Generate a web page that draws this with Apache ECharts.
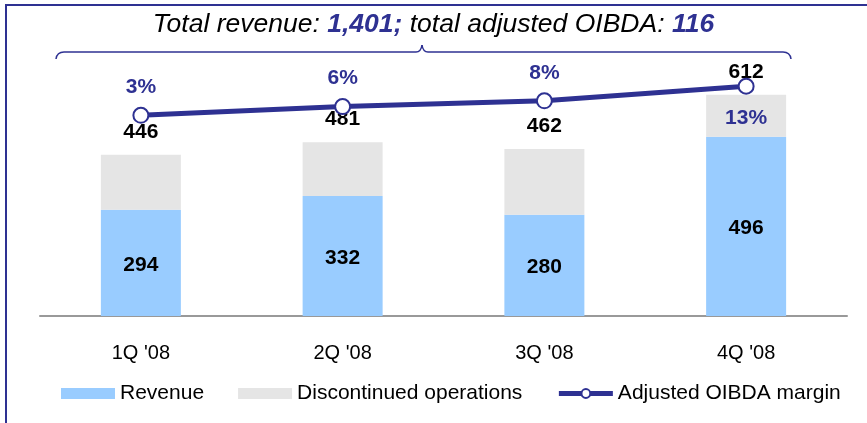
<!DOCTYPE html>
<html>
<head>
<meta charset="utf-8">
<script src="https://cdn.jsdelivr.net/npm/echarts@6/dist/echarts.min.js"></script>
<style>
  html, body { margin: 0; padding: 0; background: #fff; }
  #chart { width: 867px; height: 423px; }
</style>
</head>
<body>
<div id="chart"></div>
<script>
  // quarters
  var categories = ["1Q '08", "2Q '08", "3Q '08", "4Q '08"];
  // revenue from continuing operations
  var revenue = [294, 332, 280, 496];
  // discontinued operations (total - revenue)
  var discontinued = [152, 149, 182, 116];
  // total revenue shown above each bar
  var totals = [446, 481, 462, 612];
  // adjusted OIBDA margin, %
  var margin = [3, 6, 8, 13];
  var totalRevenue = '1,401';
  var totalOibda = '116';

  var blue = '#2e3192';
  var font = 'Liberation Sans, Arial, sans-serif';

  var myChart = echarts.init(document.getElementById('chart'));

  // 大括号的样式
  var braceStyle = {stroke: blue, lineWidth: 1.5, fill: null};

  var option = {
    animation: false,
    textStyle: {fontFamily: font},
    // 标题
    title: {
      left: 'center',
      top: 6,
      text: '{a|Total revenue: }{b|' + totalRevenue + ';}{a| total adjusted OIBDA: }{b|' + totalOibda + '}',
      textStyle: {
        rich: {
          a: {fontSize: 26.5, fontStyle: 'italic', fontWeight: 'normal', color: '#000', fontFamily: font},
          b: {fontSize: 26.5, fontStyle: 'italic', fontWeight: 'bold', color: blue, fontFamily: font}
        }
      }
    },
    // 图例
    legend: {
      left: 56,
      top: 378,
      itemWidth: 54,
      itemHeight: 11,
      itemGap: 34,
      textStyle: {fontSize: 21, color: '#000', fontFamily: font},
      data: [
        {name: 'Revenue', icon: 'rect'},
        {name: 'Discontinued operations', icon: 'rect'},
        {name: 'Adjusted OIBDA margin', lineStyle: {width: 5}}
      ]
    },
    grid: {left: 40, right: 20, top: 63, bottom: 107},
    xAxis: {
      type: 'category',
      data: categories,
      axisLine: {lineStyle: {color: '#999', width: 2}},
      axisTick: {show: false},
      axisLabel: {fontSize: 20, color: '#000', margin: 27, fontFamily: font}
    },
    yAxis: [
      {type: 'value', min: 0, max: 700, show: false, splitLine: {show: false}},
      {type: 'value', min: -66, max: 21, show: false, splitLine: {show: false}}
    ],
    // 装饰: 边框 + 大括号
    graphic: [
      {
        type: 'polyline',
        shape: {points: [[6, 423], [6, 5], [867, 5]]},
        style: {stroke: blue, lineWidth: 2, fill: null}
      },
      {type: 'bezierCurve', shape: {x1: 56, y1: 59, cpx1: 57, cpy1: 52, x2: 64, y2: 52}, style: braceStyle},
      {type: 'line', shape: {x1: 64, y1: 52, x2: 416, y2: 52}, style: braceStyle},
      {type: 'bezierCurve', shape: {x1: 416, y1: 52, cpx1: 421, cpy1: 52, x2: 422, y2: 45}, style: braceStyle},
      {type: 'bezierCurve', shape: {x1: 422, y1: 45, cpx1: 423, cpy1: 52, x2: 428, y2: 52}, style: braceStyle},
      {type: 'line', shape: {x1: 428, y1: 52, x2: 783, y2: 52}, style: braceStyle},
      {type: 'bezierCurve', shape: {x1: 783, y1: 52, cpx1: 790, cpy1: 52, x2: 791, y2: 59}, style: braceStyle}
    ],
    series: [
      {
        name: 'Revenue',
        type: 'bar',
        stack: 'rev',
        barWidth: 80,
        itemStyle: {color: '#99ccff'},
        label: {
          show: true,
          position: 'inside',
          offset: [0, 2],
          fontSize: 21,
          fontWeight: 'bold',
          color: '#000',
          fontFamily: font
        },
        data: revenue
      },
      {
        name: 'Discontinued operations',
        type: 'bar',
        stack: 'rev',
        barWidth: 80,
        itemStyle: {color: '#e5e5e5'},
        label: {
          show: true,
          position: 'top',
          distance: 12,
          fontSize: 21,
          fontWeight: 'bold',
          color: '#000',
          fontFamily: font,
          formatter: function (p) { return totals[p.dataIndex]; }
        },
        data: discontinued
      },
      {
        name: 'Adjusted OIBDA margin',
        type: 'line',
        yAxisIndex: 1,
        z: 5,
        symbol: 'circle',
        symbolSize: 15,
        lineStyle: {color: blue, width: 5},
        itemStyle: {color: '#fff', borderColor: blue, borderWidth: 2},
        label: {
          show: true,
          position: 'top',
          distance: 9,
          fontSize: 21,
          fontWeight: 'bold',
          color: blue,
          fontFamily: font,
          formatter: '{c}%'
        },
        data: margin.map(function (v, i) {
          if (i === margin.length - 1) {
            return {value: v, label: {position: 'bottom', distance: 13}};
          }
          return v;
        })
      }
    ]
  };

  myChart.setOption(option);
</script>
</body>
</html>
